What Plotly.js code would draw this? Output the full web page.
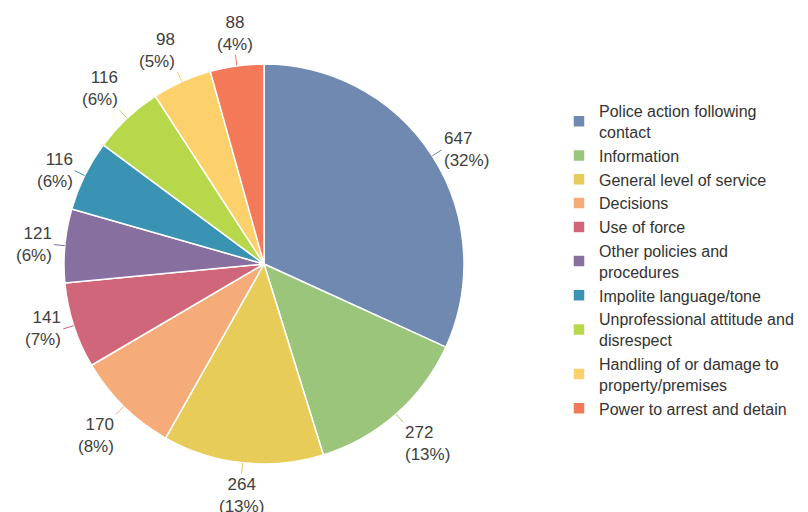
<!DOCTYPE html>
<html>
<head>
<meta charset="utf-8">
<script src="https://cdn.plot.ly/plotly-3.0.1.min.js"></script>
<style>html,body{margin:0;padding:0;background:#fff;}#chart{width:808px;height:512px;}</style>
</head>
<body>
<div id="chart"></div>
<script>
var categories = [
  "Police action following<br>contact",
  "Information",
  "General level of service",
  "Decisions",
  "Use of force",
  "Other policies and<br>procedures",
  "Impolite language/tone",
  "Unprofessional attitude and<br>disrespect",
  "Handling of or damage to<br>property/premises",
  "Power to arrest and detain"
];
var values = [647, 272, 264, 170, 141, 121, 116, 116, 98, 88];
var colors = ["#6F89B0", "#9AC57A", "#E8CC5A", "#F6AC78", "#D06679",
              "#876FA0", "#3A93B2", "#B6D84A", "#FCD16C", "#F37958"];

var W = 808, H = 512;
var domX = [64 / W, 464 / W], domY = [48 / H, 448 / H];
var cx = (domX[0] + domX[1]) / 2 * W;
var cy = H - (domY[0] + domY[1]) / 2 * H;
var R = Math.min((domX[1] - domX[0]) * W, (domY[1] - domY[0]) * H) / 2;

var total = values.reduce(function (a, b) { return a + b; }, 0);
var annotations = [], shapes = [];
var cum = 0;
values.forEach(function (v, i) {
  var mid = (cum + v / 2) / total * 2 * Math.PI;
  cum += v;
  var s = Math.sin(mid), c = Math.cos(mid);
  var x0 = cx + R * s, y0 = cy - R * c;
  var x1 = cx + (R + 11) * s, y1 = cy - (R + 11) * c;
  shapes.push({type: "line", xref: "paper", yref: "paper",
    x0: x0 / W, y0: 1 - y0 / H, x1: x1 / W, y1: 1 - y1 / H,
    line: {color: colors[i], width: 1}});
  var xa = s > 0.25 ? "left" : (s < -0.25 ? "right" : "center");
  var ya = c > 0.6 ? "bottom" : (c < -0.6 ? "top" : "middle");
  var pct = Math.round(v / total * 100);
  annotations.push({xref: "paper", yref: "paper",
    x: (x1 + (xa === "left" ? 1 : xa === "right" ? -1 : 0)) / W,
    y: 1 - y1 / H, xanchor: xa, yanchor: ya, align: xa,
    showarrow: false, borderpad: 0,
    text: v + "<br>(" + pct + "%)",
    font: {family: "Liberation Sans, Arial, sans-serif", size: 17, color: "#404040"}});
});

var trace = {
  type: "pie",
  labels: categories,
  values: values,
  sort: false,
  direction: "clockwise",
  rotation: 0,
  textinfo: "none",
  hoverinfo: "label+value+percent",
  marker: {colors: colors, line: {color: "#ffffff", width: 1.5}},
  domain: {x: domX, y: domY}
};

var layout = {
  width: W, height: H,
  margin: {l: 0, r: 0, t: 0, b: 0},
  paper_bgcolor: "#ffffff",
  showlegend: true,
  font: {family: "Liberation Sans, Arial, sans-serif", color: "#333333"},
  legend: {x: 559 / W, xanchor: "left", y: 1 - 94 / H, yanchor: "top",
    font: {size: 16, color: "#333333"}, tracegroupgap: 0, itemclick: false},
  annotations: annotations,
  shapes: shapes
};

Plotly.newPlot("chart", [trace], layout, {displayModeBar: false, staticPlot: true});
</script>
</body>
</html>
